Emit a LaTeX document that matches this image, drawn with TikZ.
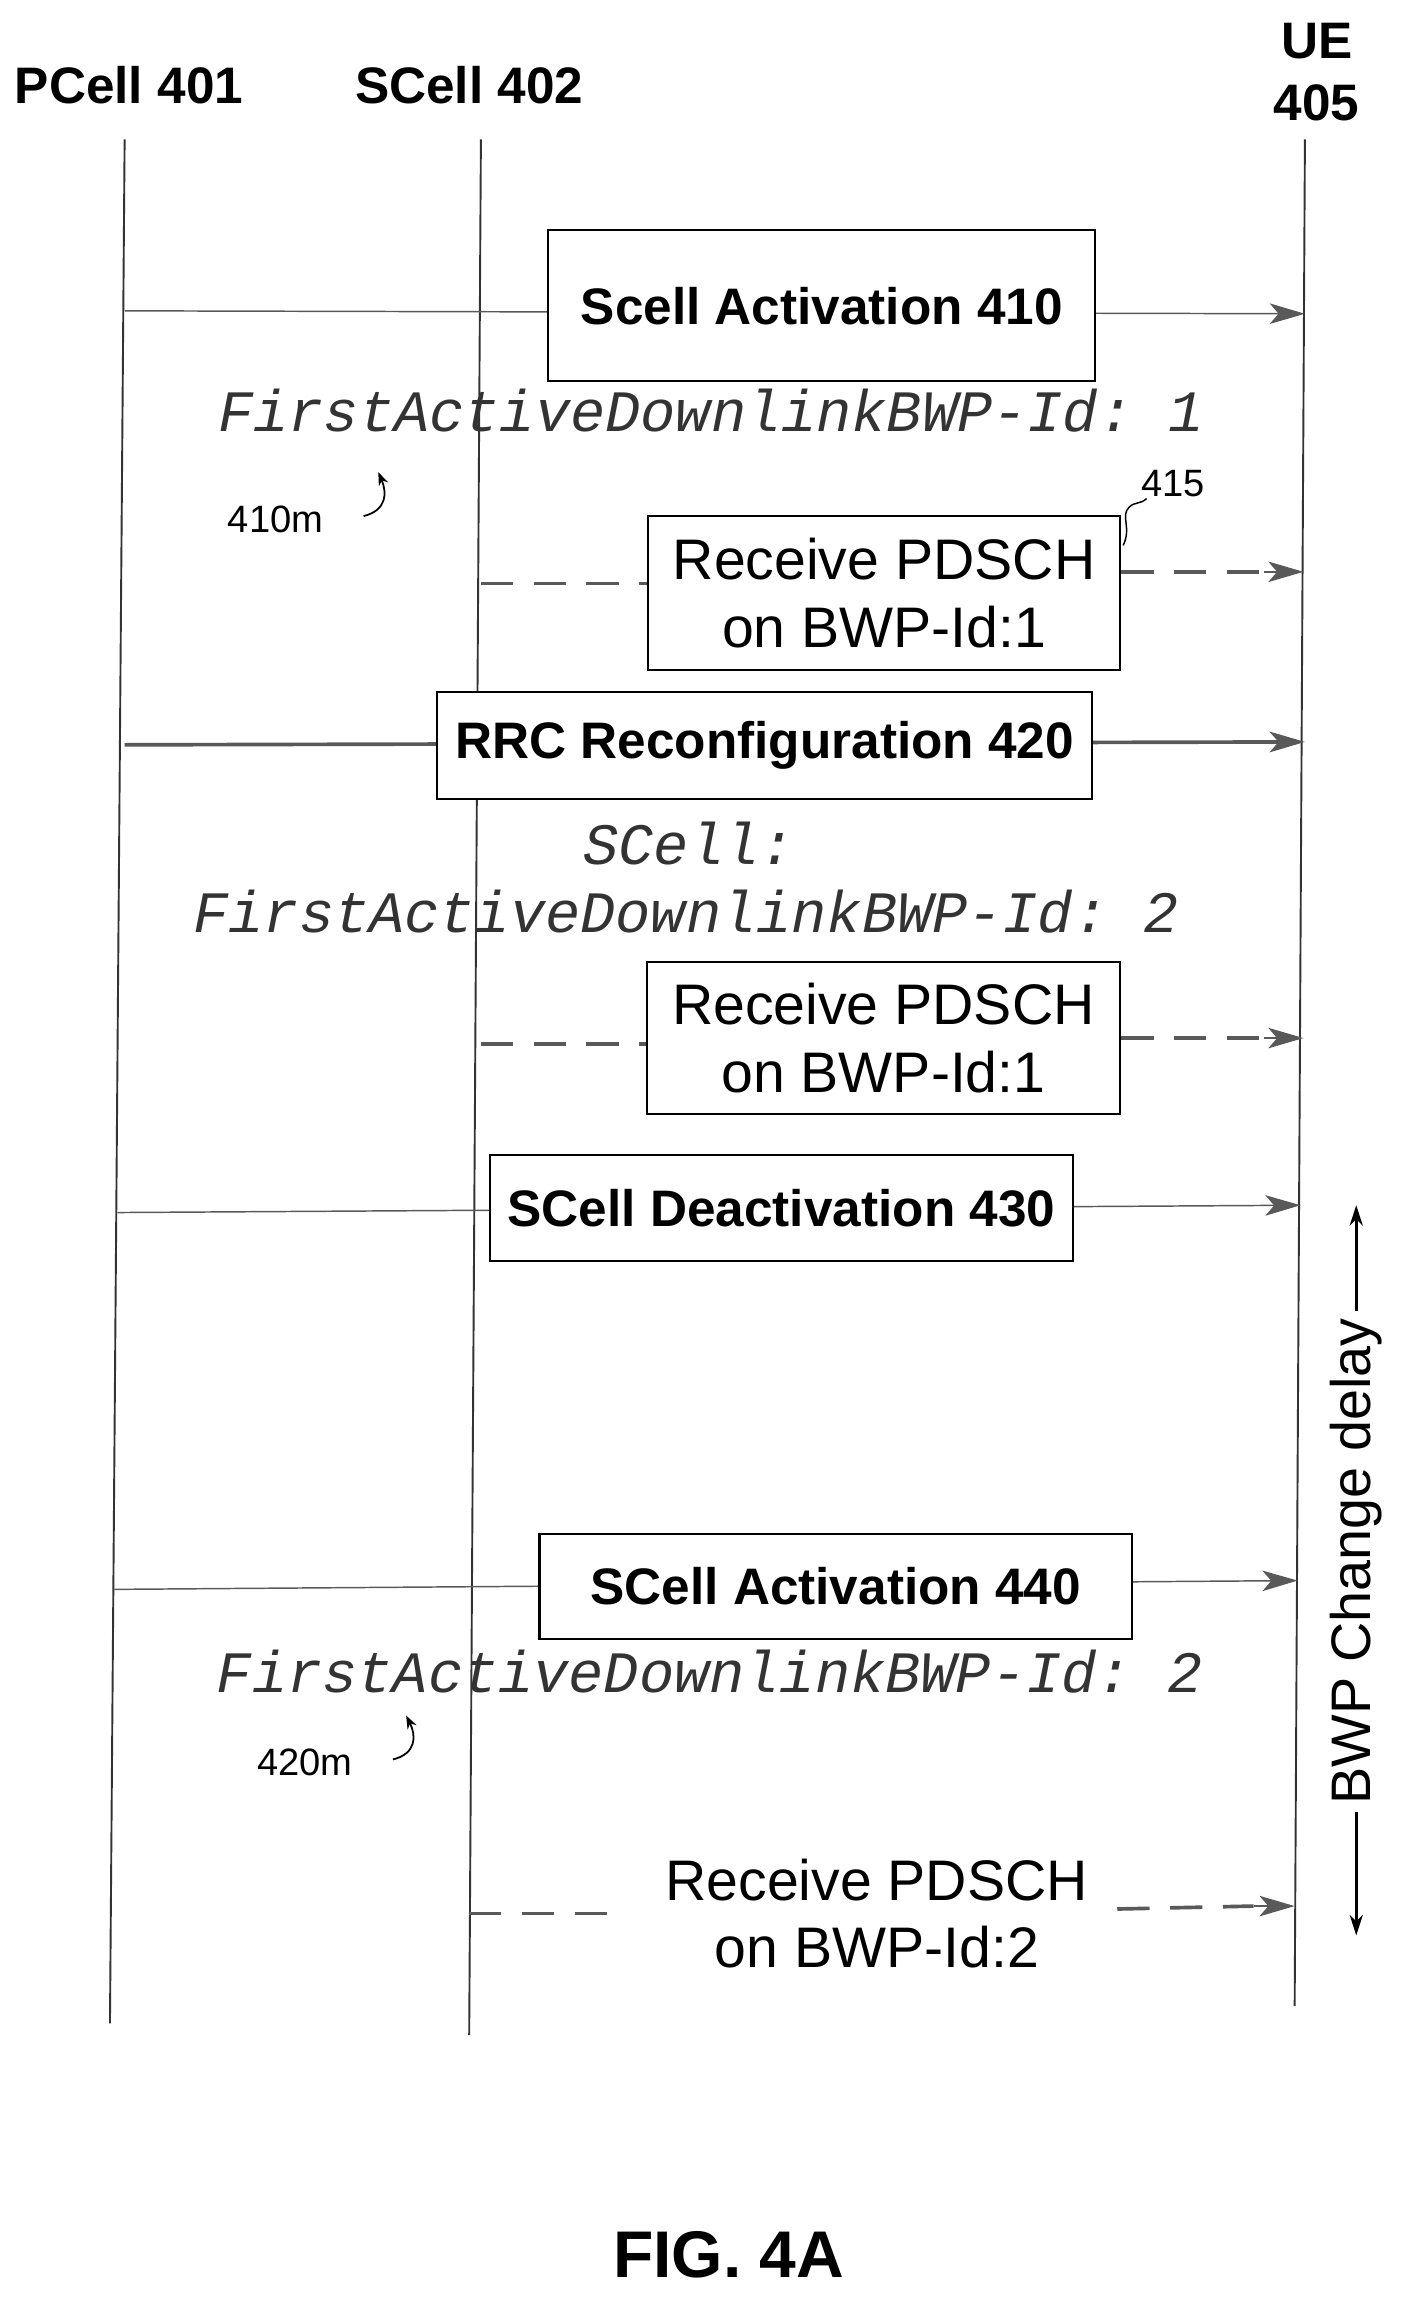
\documentclass[tikz,border=0pt]{standalone}
\usepackage{fontspec}
\setmainfont{Liberation Sans}
\setmonofont{Liberation Mono}
\usetikzlibrary{arrows.meta}
\begin{document}
\begin{tikzpicture}[x=1pt,y=-1pt,
  life/.style={line width=1.3pt,black!80},
  tip/.style={-{Stealth[length=24pt,width=14pt,inset=6pt]}},
  msg/.style={line width=1pt,gray!70!black,tip},
  dmsg/.style={line width=2.5pt,gray!70!black,dash pattern=on 22pt off 14pt},
  box/.style={draw,line width=1.5pt,fill=white,inner sep=0pt},
  bl/.style={font=\fontsize{35}{40}\selectfont\bfseries},
  rl/.style={font=\fontsize{39}{46}\selectfont,align=center},
  mono/.style={font=\fontsize{40}{48}\selectfont\ttfamily\itshape,text=black!80},
  sm/.style={font=\fontsize{26}{28}\selectfont}]
\useasboundingbox (0,0) rectangle (960,1568);
% headers
\node[font=\fontsize{35}{40}\selectfont\bfseries] (hp) at (88,58) {PCell 401};
\node[font=\fontsize{35}{40}\selectfont\bfseries] (hs) at (320,58) {SCell 402};
\node[align=center,font=\fontsize{35}{42}\selectfont\bfseries] (hu) at (898,49) {UE\\405};
% lifelines
\coordinate (pT) at (85,95); \coordinate (pB) at (75,1380);
\coordinate (sT) at (328,95); \coordinate (sB) at (320,1388);
\coordinate (uT) at (890,95); \coordinate (uB) at (883,1368);
\draw[life] (pT) -- (pB); \draw[life] (sT) -- (sB); \draw[life] (uT) -- (uB);
% 410
\coordinate (a1) at (85,212); \coordinate (a1e) at (890,214);
\draw[msg] (a1) -- (a1e);
\node[box,minimum width=373pt,minimum height=103pt,bl] (b410) at (560.5,208.5) {Scell Activation 410};
\node[mono] (m1) at (485,280) {FirstActiveDownlinkBWP-Id: 1};
\node[sm] (l410m) at (188,354) {410m};
\draw[line width=1.2pt,-{Stealth[length=9pt]}] (248,352) .. controls (264,348) and (264,336) .. (258,322);
% 415
\node[box,minimum width=322pt,minimum height=105pt,rl] (b415) at (603,404.5) {Receive PDSCH\\on BWP-Id:1};
\coordinate (d1s) at (328,398); \coordinate (d1e) at (889,390);
\draw[dmsg] (d1s) -- (b415.west |- d1s);
\draw[dmsg] (b415.east |- d1e) -- (862,390);
\draw[line width=1pt,gray!70!black,tip] (862,390) -- (d1e);
\node[sm] (l415) at (800,330) {415};
\draw[line width=1pt] (766,372) .. controls (772,360) and (764,352) .. (770,346) .. controls (774,342) and (778,344) .. (782,340);
% 420
\coordinate (a2) at (85,508); \coordinate (a2e) at (890,506);
\draw[msg,line width=2.5pt] (a2) -- (a2e);
\node[box,minimum width=447pt,minimum height=73pt,bl] (b420) at (521.5,508.5) {RRC Reconfiguration 420};
\node[mono] (m2a) at (470,575) {SCell:};
\node[mono] (m2b) at (468,622) {FirstActiveDownlinkBWP-Id: 2};
% second receive
\node[box,minimum width=323pt,minimum height=104pt,rl] (b2) at (602.5,708) {Receive PDSCH\\on BWP-Id:1};
\coordinate (d2s) at (328,712); \coordinate (d2e) at (889,708);
\draw[dmsg] (d2s) -- (b2.west |- d2s);
\draw[dmsg] (b2.east |- d2e) -- (862,708);
\draw[line width=1pt,gray!70!black,tip] (862,708) -- (d2e);
% 430
\coordinate (a3) at (80,827); \coordinate (a3e) at (887,822);
\draw[msg] (a3) -- (a3e);
\node[box,minimum width=398pt,minimum height=72pt,bl] (b430) at (533,824) {SCell Deactivation 430};
% 440
\coordinate (a4) at (78,1084); \coordinate (a4e) at (885,1078);
\draw[msg] (a4) -- (a4e);
\node[box,minimum width=404pt,minimum height=72pt,bl] (b440) at (570,1082) {SCell Activation 440};
\node[mono] (m3) at (484,1140) {FirstActiveDownlinkBWP-Id: 2};
\node[sm] (l420m) at (208,1202) {420m};
\draw[line width=1.2pt,-{Stealth[length=9pt]}] (268,1200) .. controls (284,1196) and (284,1184) .. (277,1170);
% last receive
\node[rl] (r3) at (598,1305) {Receive PDSCH\\on BWP-Id:2};
\coordinate (d3s) at (320,1305); \coordinate (d3e) at (883,1300);
\draw[dmsg] (d3s) -- (425,1305);
\draw[dmsg] (762,1302) -- (855,1300);
\draw[line width=1pt,gray!70!black,tip] (855,1300) -- (d3e);
% BWP change delay
\node[rotate=90,font=\fontsize{38}{42}\selectfont,fill=white,inner sep=5pt] (bwp) at (925,1065) {BWP Change delay};
\coordinate (bu) at (925,822); \coordinate (bd) at (925,1320);
\draw[line width=1.8pt,-{Stealth[length=14pt,width=9pt]}] (bwp.east) -- (bu);
\draw[line width=1.8pt,-{Stealth[length=14pt,width=9pt]}] (bwp.west) -- (bd);
\node[font=\fontsize{45}{48}\selectfont\bfseries] (fig) at (497,1538) {FIG. 4A};
\end{tikzpicture}
\end{document}
